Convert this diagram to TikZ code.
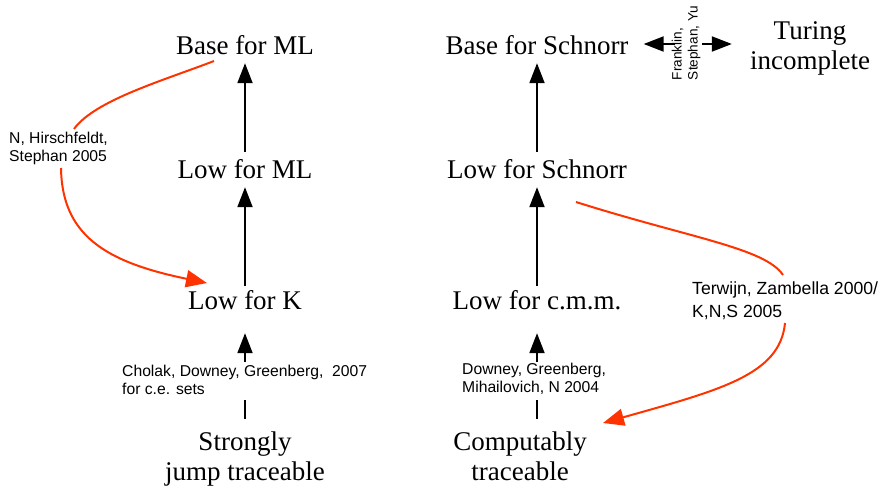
\documentclass[tikz,border=0pt]{standalone}
\usepackage{fontspec}
\setmainfont{Liberation Serif}
\newfontfamily\hv{Liberation Sans}
\usetikzlibrary{arrows.meta}
\definecolor{redc}{RGB}{255,51,0}
\begin{document}
\begin{tikzpicture}[x=1pt,y=-1pt,
 ser/.style={font=\fontsize{27}{30}\selectfont, inner sep=0pt},
 one/.style={ser, text height=18pt, text depth=0pt, anchor=base},
 multi/.style={ser, align=center, anchor=north},
 small/.style={font=\hv\fontsize{15.7}{17.5}\selectfont, inner sep=0pt, align=left, anchor=north west},
 blk/.style={line width=2pt, black},
 arr/.style={blk, -{Triangle[length=20pt,width=15pt]}},
 redln/.style={line width=2pt, redc},
 redarr/.style={redln, -{Triangle[length=21pt,width=17pt]}}]
\useasboundingbox (0,0) rectangle (882,490);
% main nodes
\node[one] (bml) at (245,54) {Base for ML};
\node[one] (lml) at (245,178) {Low for ML};
\node[one] (lk) at (245,309) {Low for K};
\node[multi] (sjt) at (245,432) {Strongly\\jump traceable};
\node[one] (bs) at (537,54) {Base for Schnorr};
\node[one] (ls) at (537,178) {Low for Schnorr};
\node[one] (lc) at (537,309) {Low for c.m.m.};
\node[multi] (ct) at (520,432) {Computably\\traceable};
\node[multi] (tur) at (810,21) {Turing\\incomplete};
% labels
\node[small] (cdg) at (122,365) {Cholak, Downey, Greenberg,~ 2007\\for c.e. sets};
\node[small] (dgm) at (462,363) {Downey, Greenberg,\\Mihailovich, N 2004};
\node[small] (nhs) at (9,132) {N, Hirschfeldt,\\Stephan 2005};
\node[small, font=\hv\fontsize{17.6}{23}\selectfont] (tz) at (692,282) {Terwijn, Zambella 2000/\\K,N,S 2005};
\node[font=\hv\fontsize{13.6}{16}\selectfont, rotate=90, align=left, inner sep=0pt] (fsy) at (686,43) {Franklin,\\Stephan, Yu};
% black arrows
\draw[arr, shorten <=8pt, shorten >=9pt] (lml) -- (bml);
\draw[arr, shorten <=5pt, shorten >=9pt] (lk) -- (lml);
\draw[arr, shorten <=8pt, shorten >=9pt] (ls) -- (bs);
\draw[arr, shorten <=5pt, shorten >=9pt] (lc) -- (ls);
\coordinate (sb1) at (245,419);
\coordinate (sb2) at (245,400);
\coordinate (sb3) at (245,362);
\draw[blk] (sb1) -- (sb2);
\draw[arr, shorten >=24pt] (sb3) -- (lk);
\coordinate (cb1) at (537,419);
\coordinate (cb2) at (537,400);
\coordinate (cb3) at (537,362);
\draw[blk] (cb1) -- (cb2);
\draw[arr, shorten >=24pt] (cb3) -- (lc);
\coordinate (dl) at (675,44);
\coordinate (dr) at (702,44);
\draw[arr, shorten >=15pt] (dl) -- (dl -| bs.east);
\draw[arr, shorten >=18pt] (dr) -- (dr -| tur.west);
% red curves
\coordinate (r1) at (214,61);
\coordinate (r2) at (74,129);
\coordinate (r3) at (61,168);
\coordinate (r4) at (207,283);
\draw[redln] (r1) .. controls (165,80) and (95,100) .. (r2);
\draw[redarr] (r3) .. controls (62,235) and (105,262) .. (r4);
\coordinate (q1) at (576,202);
\coordinate (q2) at (783,275);
\coordinate (q3) at (785,323);
\coordinate (q4) at (603,423);
\draw[redln] (q1) .. controls (690,238) and (765,248) .. (q2);
\draw[redarr] (q3) .. controls (780,375) and (720,390) .. (q4);
\end{tikzpicture}
\end{document}
